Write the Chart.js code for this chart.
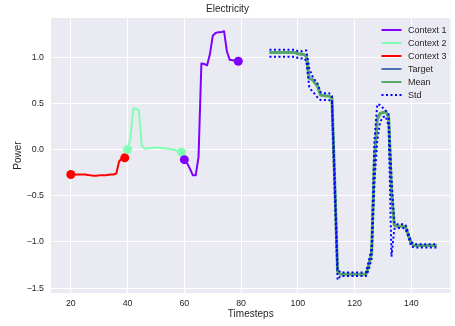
<!DOCTYPE html>
<html>
<head>
<meta charset="utf-8">
<script src="https://cdn.jsdelivr.net/npm/chart.js@4.4.1/dist/chart.umd.min.js"></script>
<style>
  html, body { margin: 0; padding: 0; background: #fff; }
</style>
</head>
<body>
<canvas id="chart" width="455" height="326"></canvas>
<script>
// first timestep of each context window and of the forecast
const context3Start = 20;
const context2Start = 40;
const context1Start = 60;
const forecastStart = 90;

const context3 = [-0.27, -0.27, -0.27, -0.27, -0.27, -0.27, -0.275, -0.28, -0.285, -0.285,
                  -0.28, -0.28, -0.28, -0.275, -0.27, -0.27, -0.26, -0.13, -0.095, -0.09];
const context2 = [0.0, 0.12, 0.44, 0.44, 0.42, 0.04, 0.01, 0.01, 0.015, 0.02,
                  0.02, 0.02, 0.015, 0.01, 0.01, 0.005, 0.0, -0.01, -0.02, -0.03];
const context1 = [-0.11, -0.15, -0.21, -0.28, -0.28, -0.08, 0.93, 0.925, 0.91, 1.03,
                  1.23, 1.26, 1.27, 1.27, 1.28, 1.06, 0.97, 0.965, 0.96, 0.955];

const meanForecast = [
  1.05, 1.05, 1.05, 1.05, 1.05, 1.05, 1.05, 1.05, 1.05, 1.05,
  1.035, 1.03, 1.03, 1.01, 0.77, 0.76, 0.72, 0.68, 0.59, 0.585,
  0.58, 0.58, 0.56, -0.35, -1.32, -1.35, -1.35, -1.35, -1.35, -1.35,
  -1.35, -1.35, -1.35, -1.35, -1.35, -1.25, -1.12, -0.1, 0.33, 0.39,
  0.40, 0.41, 0.35, -0.45, -0.82, -0.83, -0.83, -0.83, -0.84, -0.93,
  -1.02, -1.04, -1.04, -1.04, -1.04, -1.04, -1.04, -1.04, -1.04, -1.04
];
const targetForecast = meanForecast;
const stdUpper = [
  1.08, 1.08, 1.08, 1.08, 1.08, 1.08, 1.08, 1.08, 1.08, 1.08,
  1.065, 1.06, 1.07, 1.07, 0.88, 0.80, 0.75, 0.71, 0.62, 0.61,
  0.61, 0.61, 0.58, -0.3, -1.3, -1.33, -1.33, -1.33, -1.33, -1.33,
  -1.33, -1.33, -1.33, -1.33, -1.33, -1.21, -1.06, 0.1, 0.49, 0.48,
  0.45, 0.42, 0.38, -0.3, -0.80, -0.81, -0.81, -0.81, -0.82, -0.91,
  -1.0, -1.025, -1.025, -1.025, -1.025, -1.025, -1.025, -1.025, -1.025, -1.025
];
const stdLower = [
  1.005, 1.005, 1.005, 1.005, 1.005, 1.005, 1.005, 1.005, 1.005, 1.005,
  0.99, 0.985, 0.99, 0.96, 0.68, 0.63, 0.60, 0.56, 0.535, 0.535,
  0.535, 0.535, 0.52, -0.45, -1.41, -1.37, -1.37, -1.37, -1.37, -1.37,
  -1.37, -1.37, -1.37, -1.37, -1.37, -1.3, -1.18, -0.35, 0.1, 0.3,
  0.35, 0.36, 0.25, -1.16, -0.86, -0.85, -0.85, -0.85, -0.86, -0.95,
  -1.05, -1.06, -1.06, -1.06, -1.06, -1.06, -1.06, -1.06, -1.06, -1.06
];

const xTicks = [20, 40, 60, 80, 100, 120, 140];
const yTicks = [-1.5, -1.0, -0.5, 0.0, 0.5, 1.0];

const colors = {
  ctx1: '#8000ff',
  ctx2: '#80ffb4',
  ctx3: '#ff0000',
  target: '#4c72b0',
  mean: '#55a868',
  std: '#0000ff',
  text: '#262626',
  panel: '#eaeaf2'
};

const STD_DASH = [2, 2.5];

function toPoints(start, values) {
  return values.map((v, i) => ({ x: start + i, y: v }));
}

// dot only on first and last point of a context window
function endDots(ctx) {
  const n = ctx.dataset.data.length;
  return (ctx.dataIndex === 0 || ctx.dataIndex === n - 1) ? 4.5 : 0;
}

function contextSet(label, start, values, color) {
  return {
    label, data: toPoints(start, values),
    borderColor: color, backgroundColor: color,
    borderWidth: 2, borderJoinStyle: 'round',
    pointRadius: endDots, pointBorderWidth: 0, pointBackgroundColor: color, pointHoverRadius: 0
  };
}

function lineSet(label, values, color, width, dash) {
  return {
    label, data: toPoints(forecastStart, values),
    borderColor: color, backgroundColor: color,
    borderWidth: width, borderDash: dash || [], borderJoinStyle: 'round',
    pointRadius: 0, pointHoverRadius: 0
  };
}

const panelBg = {
  id: 'panelBg',
  beforeDraw(chart) {
    const a = chart.chartArea, c = chart.ctx;
    c.save();
    c.fillStyle = colors.panel;
    c.fillRect(a.left, a.top, a.right - a.left, a.bottom - a.top);
    c.restore();
  }
};

const legendEntries = [
  { label: 'Context 1', color: colors.ctx1 },
  { label: 'Context 2', color: colors.ctx2 },
  { label: 'Context 3', color: colors.ctx3 },
  { label: 'Target', color: colors.target },
  { label: 'Mean', color: colors.mean },
  { label: 'Std', color: colors.std, dash: STD_DASH }
];

const insideLegend = {
  id: 'insideLegend',
  afterDraw(chart) {
    const c = chart.ctx, a = chart.chartArea;
    const x0 = a.right - 69, x1 = a.right - 49, tx = a.right - 42.5;
    c.save();
    c.font = '9px "Liberation Sans", Arial, sans-serif';
    c.textBaseline = 'middle';
    legendEntries.forEach((e, i) => {
      const y = a.top + 12 + i * 13;
      c.strokeStyle = e.color;
      c.lineWidth = 2;
      c.setLineDash(e.dash || []);
      c.beginPath();
      c.moveTo(x0, y);
      c.lineTo(x1, y);
      c.stroke();
      c.fillStyle = colors.text;
      c.fillText(e.label, tx, y + 0.5);
    });
    c.restore();
  }
};

Chart.defaults.font.family = '"Liberation Sans", Arial, sans-serif';
Chart.defaults.color = colors.text;

new Chart(document.getElementById('chart'), {
  type: 'line',
  data: {
    datasets: [
      lineSet('Std', stdUpper, colors.std, 2, STD_DASH),
      lineSet('Std lower', stdLower, colors.std, 2, STD_DASH),
      lineSet('Mean', meanForecast, colors.mean, 3),
      lineSet('Target', targetForecast, colors.target, 2),
      contextSet('Context 1', context1Start, context1, colors.ctx1),
      contextSet('Context 2', context2Start, context2, colors.ctx2),
      contextSet('Context 3', context3Start, context3, colors.ctx3)
    ]
  },
  options: {
    responsive: false,
    animation: false,
    devicePixelRatio: 1,
    layout: { padding: 0 },
    elements: { line: { tension: 0 } },
    scales: {
      x: {
        type: 'linear', min: 13.0, max: 153.8,
        afterBuildTicks: s => { s.ticks = xTicks.map(v => ({ value: v })); },
        afterFit: s => { s.height = 33; },
        grid: { color: '#ffffff', lineWidth: 1, drawTicks: false },
        border: { display: false },
        ticks: { font: { size: 8.8 }, padding: 5, maxRotation: 0, autoSkip: false, callback: v => String(v) },
        title: { display: true, text: 'Timesteps', font: { size: 10 }, padding: { top: 0, bottom: 6 } }
      },
      y: {
        type: 'linear', min: -1.553, max: 1.423,
        afterBuildTicks: s => { s.ticks = yTicks.map(v => ({ value: v })); },
        afterFit: s => { s.width = 51; },
        grid: { color: '#ffffff', lineWidth: 1, drawTicks: false },
        border: { display: false },
        ticks: { font: { size: 8.8 }, padding: 7, callback: v => v.toFixed(1).replace('-', '\u2212') },
        title: { display: true, text: 'Power', font: { size: 10 }, padding: { top: 12, bottom: 0 } }
      }
    },
    plugins: {
      legend: { display: false },
      tooltip: { enabled: false },
      title: {
        display: true, text: 'Electricity',
        font: { size: 10, weight: 'normal', lineHeight: 1 },
        padding: { top: 4, bottom: 4 }
      }
    }
  },
  plugins: [panelBg, insideLegend]
});
</script>
</body>
</html>
